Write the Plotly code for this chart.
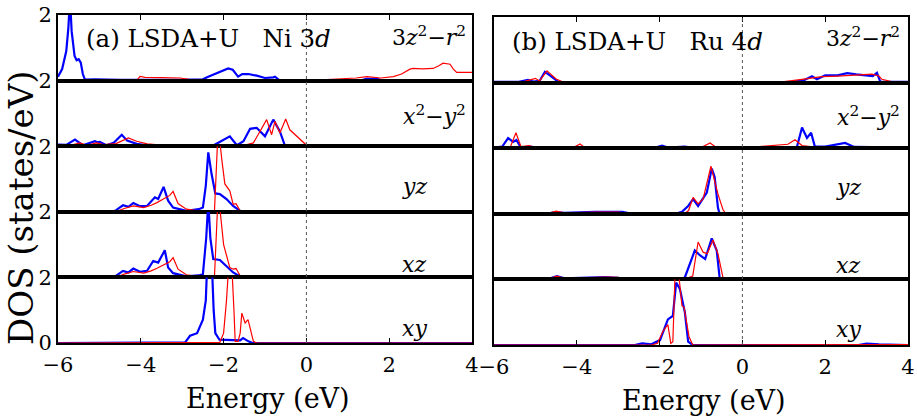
import plotly.graph_objects as go

# ---------------- data (energy in eV, DOS in states/eV) ----------------
# Panel (a) Ni 3d
a_z2_up_E = [-6, -5.9, -5.8, -5.75, -5.71, -5.67, -5.6, -5.55, -5.5, -5.45, -5.4, -5.35, -5.1, -4.5, -3.0, -2.5, -2.4, -2.2, -2.0, -1.89, -1.78, -1.65, -1.55, -1.4, -1.2, -1.0, -0.8, -0.76, -0.64, 0.4, 1.3, 1.45, 1.7, 1.85, 4]
a_z2_up_D = [0.12, 0.35, 0.9, 1.6, 2.5, 1.5, 0.75, 0.62, 0.65, 0.55, 0.2, 0.03, 0.04, 0.02, 0.02, 0.04, 0.1, 0.2, 0.32, 0.37, 0.33, 0.12, 0.2, 0.2, 0.15, 0.08, 0.1, 0.12, 0.0, 0.0, 0.0, 0.05, 0.05, 0.0, 0.0]
a_z2_dn_E = [-6, -4.1, -4.02, -3.9, -3.5, -3.05, -2.8, -2.4, -2.0, -1.5, -1.0, -0.6, 0.0, 0.4, 0.8, 1.2, 1.46, 1.8, 2.1, 2.3, 2.5, 2.58, 2.8, 3.06, 3.2, 3.3, 3.47, 3.55, 3.63, 3.8, 4.0]
a_z2_dn_D = [0.0, 0.0, 0.13, 0.1, 0.09, 0.08, 0.03, 0.03, 0.02, 0.02, 0.02, 0.01, 0.0, 0.02, 0.05, 0.08, 0.12, 0.08, 0.12, 0.2, 0.35, 0.37, 0.36, 0.37, 0.45, 0.53, 0.5, 0.35, 0.25, 0.25, 0.25]

a_x2_up_E = [-6, -5.8, -5.59, -5.4, -5.11, -5.05, -4.99, -4.83, -4.66, -4.46, -4.33, -4.1, -3.85, -3.5, -2.25, -2.1, -1.85, -1.68, -1.52, -1.36, -1.2, -1.0, -0.8, -0.64, -0.52, 0, 4]
a_x2_up_D = [0.05, 0.04, 0.2, 0.03, 0.15, 0.12, 0.13, 0.03, 0.1, 0.35, 0.17, 0.07, 0.03, 0.01, 0.02, 0.12, 0.3, 0.03, 0.15, 0.53, 0.56, 0.3, 0.81, 0.45, 0.02, 0.0, 0.0]
a_x2_dn_E = [-6, -5.7, -5.47, -5.3, -5.07, -4.9, -4.6, -4.3, -4.1, -3.85, -3.5, -2.5, -1.5, -1.28, -1.12, -0.96, -0.84, -0.76, -0.64, -0.5, -0.4, -0.23, 0.01, 1.0, 2.5, 4]
a_x2_dn_D = [0.0, 0.03, 0.1, 0.03, 0.1, 0.05, 0.08, 0.25, 0.15, 0.07, 0.03, 0.02, 0.03, 0.1, 0.45, 0.81, 0.35, 0.76, 0.4, 0.83, 0.5, 0.3, 0.02, 0.01, 0.03, 0.01]

a_yz_up_E = [-6, -4.7, -4.62, -4.43, -4.3, -4.18, -4.02, -3.85, -3.66, -3.58, -3.45, -3.34, -3.22, -2.9, -2.6, -2.5, -2.43, -2.37, -2.29, -2.2, -2.09, -1.93, -1.77, -1.6, -1.0, 4]
a_yz_up_D = [0, 0, 0.03, 0.2, 0.15, 0.27, 0.17, 0.18, 0.44, 0.39, 0.76, 0.34, 0.13, 0.03, 0.08, 0.13, 0.8, 1.81, 1.15, 0.56, 0.54, 0.39, 0.18, 0.03, 0.01, 0.0]
a_yz_dn_E = [-6, -4.6, -4.4, -4.18, -3.93, -3.75, -3.61, -3.45, -3.3, -3.22, -3.1, -2.9, -2.5, -2.22, -2.18, -2.13, -2.04, -1.97, -1.85, -1.77, -1.7, -1.6, -1.2, 4]
a_yz_dn_D = [0, 0, 0.1, 0.18, 0.13, 0.2, 0.28, 0.39, 0.5, 0.62, 0.25, 0.08, 0.01, 0.03, 1.2, 2.6, 1.56, 0.85, 0.64, 0.23, 0.25, 0.03, 0.02, 0.0]

a_xz_up_E = [-6, -4.7, -4.62, -4.43, -4.3, -4.18, -4.02, -3.85, -3.7, -3.58, -3.42, -3.34, -3.22, -2.9, -2.6, -2.5, -2.42, -2.37, -2.32, -2.25, -2.09, -1.93, -1.77, -1.6, -1.0, 4]
a_xz_up_D = [0, 0, 0.03, 0.2, 0.15, 0.27, 0.17, 0.2, 0.5, 0.45, 0.83, 0.3, 0.13, 0.03, 0.06, 0.1, 1.2, 2.3, 1.2, 0.56, 0.53, 0.35, 0.15, 0.03, 0.01, 0]
a_xz_dn_E = [-6, -4.6, -4.4, -4.18, -3.93, -3.75, -3.61, -3.45, -3.3, -3.22, -3.1, -2.9, -2.5, -2.22, -2.18, -2.13, -2.0, -1.9, -1.85, -1.77, -1.7, -1.6, -1.2, -1.03, -0.9, 4]
a_xz_dn_D = [0, 0, 0.1, 0.18, 0.13, 0.2, 0.28, 0.39, 0.48, 0.6, 0.25, 0.08, 0.01, 0.03, 1.2, 2.6, 1.0, 0.5, 0.3, 0.25, 0.27, 0.05, 0.02, 0.05, 0.01, 0]

a_xy_up_E = [-6, -3.0, -2.93, -2.81, -2.64, -2.5, -2.43, -2.4, -2.28, -2.24, -2.2, -2.1, -1.77, -1.6, -1.53, -1.4, -1.3, 4]
a_xy_up_D = [0, 0, 0.02, 0.22, 0.3, 0.71, 1.3, 2.3, 2.3, 1.0, 0.3, 0.1, 0.08, 0.08, 0.15, 0.05, 0, 0]
a_xy_dn_E = [-6, -2.5, -2.09, -2.0, -1.93, -1.88, -1.8, -1.75, -1.72, -1.65, -1.6, -1.56, -1.48, -1.41, -1.34, -1.28, -1.2, 4]
a_xy_dn_D = [0, 0, 0.02, 0.3, 1.3, 2.3, 2.3, 1.0, 0.05, 0.05, 0.3, 0.91, 0.61, 0.71, 0.4, 0.05, 0, 0]

# Panel (b) Ru 4d
b_z2_up_E = [-6, -5.4, -5.18, -5.05, -4.9, -4.77, -4.65, -4.45, -4.3, 1.2, 1.5, 1.68, 1.8, 2.0, 2.3, 2.53, 2.75, 2.96, 3.15, 3.25, 3.33, 3.6, 4]
b_z2_up_D = [0.02, 0.02, 0.08, 0.03, 0.05, 0.33, 0.22, 0.03, 0.0, 0.02, 0.08, 0.19, 0.1, 0.22, 0.22, 0.29, 0.25, 0.22, 0.2, 0.3, 0.03, 0.02, 0.02]
b_z2_dn_E = [-6, -5.3, -5.0, -4.9, -4.72, -4.5, -4.3, -2.0, -0.9, -0.7, 0.5, 0.96, 1.44, 1.92, 2.3, 2.72, 3.13, 3.3, 3.37, 3.6, 4]
b_z2_dn_D = [0, 0.02, 0.13, 0.05, 0.36, 0.11, 0.0, 0.01, 0.03, 0.0, 0.0, 0.02, 0.1, 0.18, 0.2, 0.24, 0.26, 0.2, 0.1, 0.03, 0.02]

b_x2_up_E = [-6, -5.8, -5.66, -5.54, -5.46, -5.35, -5.15, -5.0, -4.8, -2.1, -1.94, -1.8, -1.6, -1.39, -1.2, 1.25, 1.32, 1.44, 1.56, 1.66, 1.75, 2.0, 2.48, 2.7, 4]
b_x2_up_D = [0.02, 0.05, 0.31, 0.19, 0.25, 0.02, 0.05, 0.02, 0.0, 0.02, 0.08, 0.02, 0.04, 0.05, 0.01, 0.0, 0.05, 0.63, 0.31, 0.47, 0.05, 0.05, 0.16, 0.04, 0.02]
b_x2_dn_E = [-6, -5.6, -5.47, -5.35, -5.15, -5.0, -4.1, -3.92, -3.8, -1.0, -0.78, -0.65, 0.0, 0.3, 0.42, 1.1, 1.27, 1.44, 1.7, 2.5, 3.3, 4]
b_x2_dn_D = [0, 0.05, 0.47, 0.05, 0.08, 0.02, 0.01, 0.13, 0.01, 0.02, 0.16, 0.04, 0.0, 0.0, 0.05, 0.12, 0.26, 0.08, 0.04, 0.05, 0.03, 0.02]

b_yz_up_E = [-6, -4.7, -4.53, -4.3, -3.56, -2.9, -2.7, -1.6, -1.46, -1.31, -1.19, -1.07, -0.86, -0.74, -0.67, -0.59, -0.55, 2.5, 4]
b_yz_up_D = [0, 0.01, 0.05, 0.03, 0.06, 0.06, 0.01, 0.01, 0.06, 0.24, 0.45, 0.24, 0.65, 1.38, 1.12, 0.18, 0.0, 0.0, 0.02]
b_yz_dn_E = [-6, -4.7, -4.5, -4.3, -3.5, -3.0, -2.7, -1.4, -1.3, -1.19, -1.07, -0.95, -0.76, -0.67, -0.59, -0.47, -0.4, 4]
b_yz_dn_D = [0, 0.01, 0.08, 0.03, 0.05, 0.05, 0.0, 0.0, 0.1, 0.5, 0.3, 0.45, 1.45, 0.98, 0.6, 0.13, 0.0, 0.01]

b_xz_up_E = [-6, -4.7, -4.48, -4.3, -3.32, -3.0, -2.8, -1.5, -1.39, -1.15, -1.02, -0.9, -0.74, -0.62, -0.55, -0.5, 4]
b_xz_up_D = [0, 0.01, 0.1, 0.03, 0.07, 0.05, 0.0, 0.0, 0.06, 0.88, 0.73, 0.62, 1.25, 0.88, 0.05, 0.0, 0.01]
b_xz_dn_E = [-6, -4.7, -4.48, -4.3, -3.3, -3.0, -2.8, -1.4, -1.2, -1.07, -0.95, -0.85, -0.71, -0.59, -0.47, -0.4, 2.8, 3.0, 3.2, 4]
b_xz_dn_D = [0, 0.01, 0.1, 0.03, 0.07, 0.06, 0.0, 0.0, 0.1, 1.14, 0.83, 0.78, 1.2, 0.78, 0.06, 0.0, 0.0, 0.04, 0.02, 0.01]

b_xy_up_E = [-6, -2.6, -2.42, -2.2, -1.99, -1.8, -1.68, -1.6, -1.51, -1.39, -1.31, -1.2, 2.8, 3.0, 3.3, 4]
b_xy_up_D = [0, 0, 0.05, 0.02, 0.15, 0.78, 0.89, 1.9, 1.71, 1.0, 0.1, 0.0, 0.0, 0.04, 0.02, 0.0]
b_xy_dn_E = [-6, -2.2, -2.05, -1.92, -1.8, -1.73, -1.68, -1.63, -1.53, -1.46, -1.41, -1.29, -1.2, 4]
b_xy_dn_D = [0, 0.0, 0.05, 0.42, 0.62, 0.05, 0.1, 2.05, 2.05, 1.2, 1.15, 0.26, 0.0, 0.01]

orbital_labels = ["3<i>z</i><sup>2</sup>\u2212<i>r</i><sup>2</sup>",
                  "<i>x</i><sup>2</sup>\u2212<i>y</i><sup>2</sup>",
                  "<i>yz</i>", "<i>xz</i>", "<i>xy</i>"]
panel_titles = ["(a) LSDA+U\u00a0\u00a0 Ni 3<i>d</i>", "(b) LSDA+U\u00a0\u00a0 Ru 4<i>d</i>"]
x_ticks = [-6, -4, -2, 0, 2, 4]

panel_curves = [
    [(a_z2_up_E, a_z2_up_D, a_z2_dn_E, a_z2_dn_D),
     (a_x2_up_E, a_x2_up_D, a_x2_dn_E, a_x2_dn_D),
     (a_yz_up_E, a_yz_up_D, a_yz_dn_E, a_yz_dn_D),
     (a_xz_up_E, a_xz_up_D, a_xz_dn_E, a_xz_dn_D),
     (a_xy_up_E, a_xy_up_D, a_xy_dn_E, a_xy_dn_D)],
    [(b_z2_up_E, b_z2_up_D, b_z2_dn_E, b_z2_dn_D),
     (b_x2_up_E, b_x2_up_D, b_x2_dn_E, b_x2_dn_D),
     (b_yz_up_E, b_yz_up_D, b_yz_dn_E, b_yz_dn_D),
     (b_xz_up_E, b_xz_up_D, b_xz_dn_E, b_xz_dn_D),
     (b_xy_up_E, b_xy_up_D, b_xy_dn_E, b_xy_dn_D)],
]

# ---------------- layout geometry (pixels) ----------------
W, H = 917, 417
FONT = "DejaVu Serif"
TICK = 21
panel_x = [(58, 472), (494, 908)]
panel_y = [(15, 343), (17, 345)]
# label placement (pixel centres / right edges)
label_y = [36, 115, 186, 264, 328]
label_right_off = [4, 4, None, None, None]
label_center_off = 58

fig = go.Figure()
layout = dict(width=W, height=H, margin=dict(l=0, r=0, t=0, b=0, autoexpand=False),
              paper_bgcolor="white", plot_bgcolor="white", showlegend=False,
              font=dict(family=FONT, color="black", size=TICK))
shapes, annotations = [], []

for p in range(2):
    x0, x1 = panel_x[p]
    top, bot = panel_y[p]
    h = (bot - top) / 5.0
    for k in range(5):
        n = p * 5 + k + 1
        xs = "x" if n == 1 else f"x{n}"
        ys = "y" if n == 1 else f"y{n}"
        sub_top = top + k * h
        sub_bot = sub_top + h
        upE, upD, dnE, dnD = panel_curves[p][k]
        fig.add_trace(go.Scatter(x=upE, y=upD, mode="lines", xaxis=xs, yaxis=ys,
                                 line=dict(color="#0000ff", width=2.2), hoverinfo="skip"))
        fig.add_trace(go.Scatter(x=dnE, y=dnD, mode="lines", xaxis=xs, yaxis=ys,
                                 line=dict(color="#ff0000", width=1.2), hoverinfo="skip"))
        xa = dict(domain=[x0 / W, x1 / W], range=[-6, 4], anchor=ys, automargin=False,
                  showgrid=False, zeroline=False, showline=True, linecolor="black",
                  linewidth=2, mirror=True, tickvals=x_ticks, showticklabels=False,
                  ticks="", tickfont=dict(family=FONT, size=TICK, color="black"))
        if k == 0:
            xa.update(side="top", ticks="inside", ticklen=5, tickwidth=1, tickcolor="black")
        if k == 4:
            xa.update(side="bottom", ticks="inside", ticklen=5, tickwidth=1, tickcolor="black",
                      showticklabels=True, ticklabelstandoff=2)
        ya = dict(domain=[1 - sub_bot / H, 1 - sub_top / H], range=[0, 2], anchor=xs,
                  automargin=False,
                  showgrid=False, zeroline=False, showline=True, linecolor="black",
                  linewidth=2, mirror=True, ticks="",
                  tickvals=([0, 2] if k == 4 else [2]), showticklabels=(p == 0),
                  tickfont=dict(family=FONT, size=TICK, color="black"))
        layout["xaxis" if n == 1 else f"xaxis{n}"] = xa
        layout["yaxis" if n == 1 else f"yaxis{n}"] = ya
        # orbital label
        ly = label_y[k] + (1 if p == 1 else 0)
        if label_right_off[k] is not None:
            lx, anc = (x1 - label_right_off[k] - 2 * p) / W, "right"
        else:
            lx, anc = (x1 - label_center_off - 2 * p) / W, "center"
        annotations.append(dict(text=orbital_labels[k], xref="paper", yref="paper",
                                x=lx, y=1 - ly / H, xanchor=anc,
                                yanchor="middle", showarrow=False,
                                font=dict(family=FONT, size=22, color="black")))
    # Fermi level dotted line
    xr = "x" if p == 0 else "x6"
    shapes.append(dict(type="line", xref=xr, yref="paper", x0=0, x1=0,
                       y0=1 - bot / H, y1=1 - top / H,
                       line=dict(color="#555555", width=1, dash="3px,3px"), layer="above"))
    # panel title
    annotations.append(dict(text=panel_titles[p], xref="paper", yref="paper",
                            x=(x0 + 26 - 10 * p) / W, y=1 - (39 + 2 * p) / H, xanchor="left",
                            yanchor="middle", showarrow=False,
                            font=dict(family=FONT, size=24.5, color="black")))
    # x-axis title
    annotations.append(dict(text="Energy (eV)", xref="paper", yref="paper",
                            x=((x0 + x1) / 2 + 3) / W, y=1 - (398 + 2 * p) / H,
                            xanchor="center", yanchor="middle", showarrow=False,
                            font=dict(family=FONT, size=27, color="black")))

annotations.append(dict(text="DOS (states/eV)", xref="paper", yref="paper",
                        x=21 / W, y=1 - 208 / H, xanchor="center", yanchor="middle",
                        textangle=-90, showarrow=False,
                        font=dict(family=FONT, size=34, color="black")))

layout["shapes"] = shapes
layout["annotations"] = annotations
fig.update_layout(**layout)
fig.write_html("out.html", config={"displayModeBar": False},
               post_script="document.body.style.margin='0';document.body.style.padding='0';")
